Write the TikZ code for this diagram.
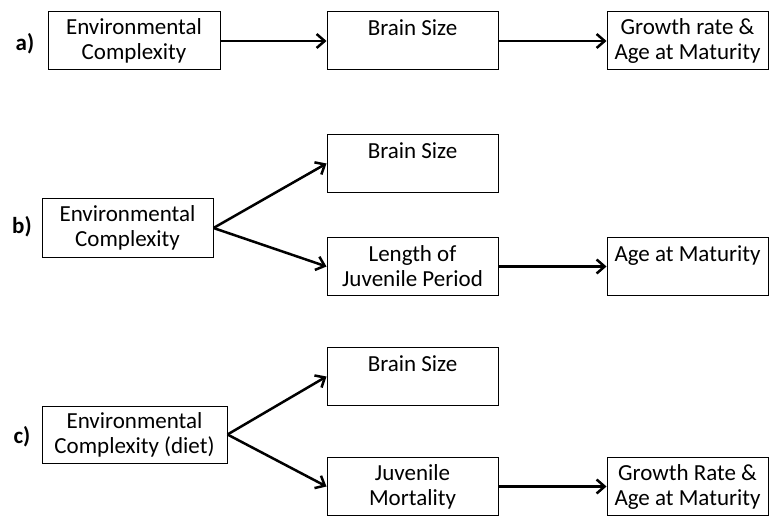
\documentclass[tikz,border=0pt]{standalone}
\usepackage{fontspec}
\setmainfont{Carlito}
\usetikzlibrary{positioning,arrows.meta}

\begin{document}
\begin{tikzpicture}
          [x=1pt, y=-1pt,
           box/.style={draw, line width=1pt, inner sep=0pt, minimum width=171pt, minimum height=58pt, align=center, font=\fontsize{23}{25}\selectfont},
           topline/.style={text height=24pt, text depth=34pt},
           tag/.style={font=\fontsize{23}{25}\selectfont\bfseries},
           link/.style={line width=2.5pt, -{Straight Barb[length=8pt,width=14pt]}}]
          \useasboundingbox (0,0) rectangle (769,516);

          % a)
          \node (tagA) [tag] at (25,44) {a)};
          \node (envA) [box, minimum width=172pt] at (134,41) {Environmental\\Complexity};
          \node (brainA) [box, topline] at (412.5,41) {Brain Size};
          \node (growA) [box, minimum width=161pt] at (687.5,41) {Growth rate \&\\Age at Maturity};

          % b)
          \node (tagB) [tag] at (22,227) {b)};
          \node (envB) [box] at (127.5,228) {Environmental\\Complexity};
          \node (brainB) [box, topline] at (412.5,163.5) {Brain Size};
          \node (juvB) [box] at (412.5,266.5) {Length of\\Juvenile Period};
          \node (ageB) [box, topline, minimum width=161pt] at (687.5,266.5) {Age at Maturity};

          % c)
          \node (tagC) [tag] at (22,437) {c)};
          \node (envC) [box, minimum width=185pt, minimum height=57pt] at (134.5,434.5) {Environmental\\Complexity (diet)};
          \node (brainC) [box, topline] at (412.5,376.5) {Brain Size};
          \node (mortC) [box] at (412.5,486.5) {Juvenile\\Mortality};
          \node (growC) [box, minimum width=161pt] at (687.5,486.5) {Growth Rate \&\\Age at Maturity};

          \draw[link] (envA) -- (brainA);
          \draw[link] (brainA) -- (growA);
          \draw[link] (envB.east) -- (brainB.west);
          \draw[link] (envB.east) -- (juvB.west);
          \draw[link] (juvB) -- (ageB);
          \draw[link] (envC.east) -- (brainC.west);
          \draw[link] (envC.east) -- (mortC.west);
          \draw[link] (mortC) -- (growC);

        \end{tikzpicture}
\end{document}
